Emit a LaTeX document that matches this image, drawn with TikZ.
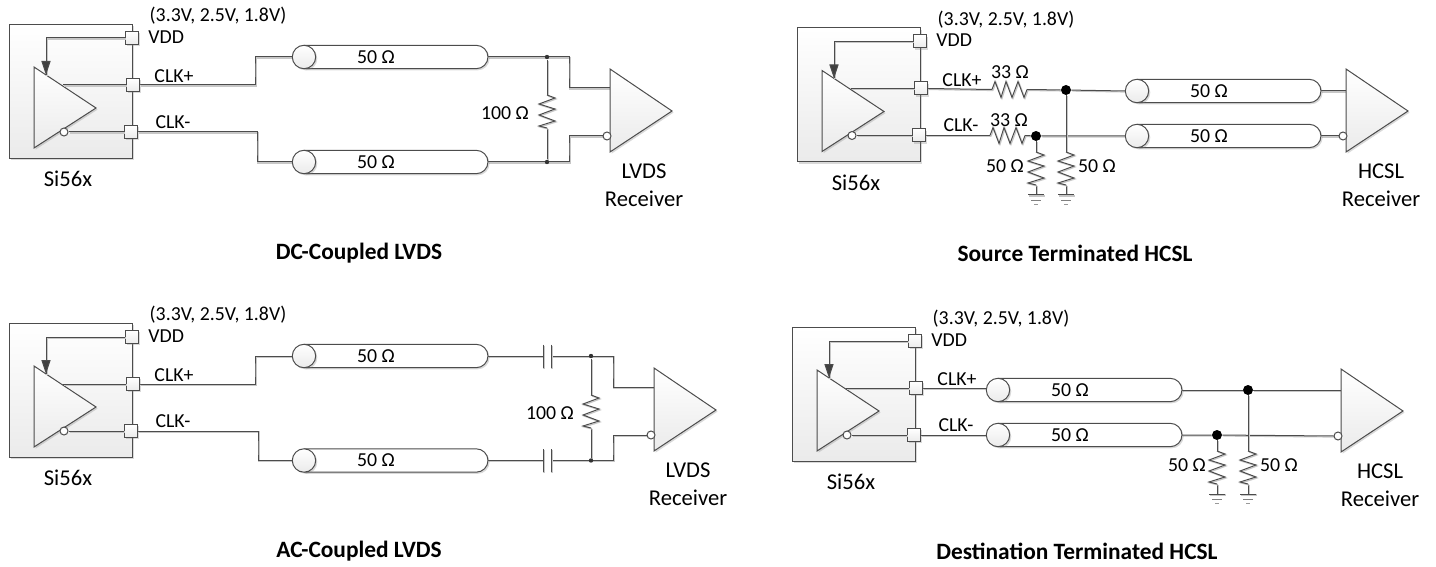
\documentclass[tikz,border=0pt]{standalone}
\usepackage{fontspec}
\setmainfont{Carlito}
\usepackage{tikz}
\usetikzlibrary{arrows.meta,shadows,backgrounds}

\definecolor{linecol}{gray}{0.3}
\tikzset{
    txt/.style={inner sep=0pt, font=\fontsize{9.9}{14}\selectfont},
    bigtxt/.style={inner sep=0pt, align=center, font=\fontsize{11.3}{14}\selectfont},
    title/.style={txt, font=\fontsize{11.7}{14}\selectfont\bfseries},
    wire/.style={draw=linecol, line width=.5pt,
        preaction={draw=black!22, line width=.6pt, transform canvas={shift={(.5pt,-.5pt)}}}},
    body/.style={draw=linecol, line width=.5pt, top color=white, bottom color=black!8,
        drop shadow={shadow xshift=.8pt, shadow yshift=-.8pt, opacity=.3}},
    pinbox/.style={body, rectangle, minimum size=6.5pt, inner sep=0pt},
    bubble/.style={circle, draw=linecol, fill=white, line width=.5pt, minimum size=4pt, inner sep=0pt},
    dotbig/.style={circle, fill=black, minimum size=5pt, inner sep=0pt},
    dotsmall/.style={circle, fill=black!80, minimum size=2.2pt, inner sep=0pt},
    % Si56x driver with its pins
    chip/.pic={
        \node[body, rectangle, anchor=north west, minimum width=61.5pt, minimum height=67pt, inner sep=0pt] (-box) at (0,0) {};
        \path[body] (25,43) -- (87,84) -- (25,124) -- cycle;
        \coordinate (-vin) at (37,51);
        \coordinate (-op) at (54,61);
        \node[bubble] (-bub) at (55,108) {};
        \node[pinbox] (-vdd) at (123,14) {};
        \node[pinbox] (-plus) at (124,61) {};
        \node[pinbox] (-minus) at (122,108) {};
        \draw[wire] (-op) -- (-plus.west);
        \draw[wire] (-bub.east) -- (-minus.west);
        \draw[wire] (-vdd.west) -| (-vin);
        \draw[draw=linecol, line width=.5pt, -{Triangle[length=7pt,width=4.6pt,fill=black!75]}] (-vdd.west) -| (-vin);
        \node[txt] (-sup) at (209,-8) {(3.3V, 2.5V, 1.8V)};
        \node[txt, anchor=west] (-vddl) at (139,13) {VDD};
        \node[txt] (-pl) at (165,52.5) {CLK+};
        \node[txt] (-ml) at (164,98) {CLK-};
        \node[bigtxt] (-name) at (59,155) {Si56x};
    },
    % transmission line, origin in the middle of the circle
    coax/.pic={
        \path[body, top color=white, bottom color=white, rounded corners=5.9pt] (0,-11.7) -- (184,-11.7) -- (184,11.7) -- (0,11.7);
        \node[body, circle, minimum size=11.7pt, inner sep=0pt] (-circ) at (0,0) {};
        \coordinate (-west) at (-11.7,0);
        \coordinate (-end) at (184,0);
        \node[txt] (-val) at (72,0) {50 Ω};
    },
    % receiver triangle, origin at its top corner
    receiver/.pic={
        \path[body] (0,0) -- (62,42) -- (0,83) -- cycle;
        \coordinate (-in) at (0,19);
        \node[bubble] (-bub) at (-3,67) {};
    },
    resv/.pic={
        \coordinate (-top) at (0,0);
        \coordinate (-bot) at (0,33);
        \draw[wire] (0,0) -- (8,3) -- (-8,9) -- (8,14) -- (-8,20) -- (8,26) -- (-8,31) -- (0,33);
    },
    resh/.pic={
        \coordinate (-w) at (0,0);
        \coordinate (-e) at (35,0);
        \draw[wire] (0,0) -- (3,-8) -- (9,8) -- (14,-8) -- (20,8) -- (26,-8) -- (32,8) -- (35,0);
    },
    gnd/.pic={
        \coordinate (-top) at (0,0);
        \draw[wire] (-8,0) -- (8,0);
        \draw[draw=black!50, line width=.4pt] (-5,5) -- (5,5);
        \draw[draw=black!40, line width=.4pt] (-2,9) -- (2,9);
    },
    capa/.pic={
        \coordinate (-w) at (-4,0);
        \coordinate (-e) at (4,0);
        \draw[wire] (-4,-11.5) -- (-4,11.5);
        \draw[wire] (4,-11.5) -- (4,11.5);
    },
}

\begin{document}
\begin{tikzpicture}[x=0.5pt,y=-0.5pt]
    \useasboundingbox (0,0) rectangle (1436,567);

    % DC-Coupled LVDS
    \pic (p1) at (9,24) {chip};
    \pic (p1c1) at (304,57) {coax};
    \pic (p1c2) at (304,162) {coax};
    \pic (p1rx) at (610,69) {receiver};
    \pic (p1r) at (547,95) {resv};
    \coordinate (p1a) at (255,70);
    \coordinate (p1b) at (257,150);
    \coordinate (p1e) at (569,70);
    \coordinate (p1f) at (569,150);
    \node[dotsmall] (p1d1) at (547,57) {};
    \node[dotsmall] (p1d2) at (547,162) {};
    \begin{scope}[on background layer]
        \draw[wire] (p1-plus.east) -| (p1a) |- (p1c1-west);
        \draw[wire] (p1-minus.east) -| (p1b) |- (p1c2-west);
        \draw[wire] (p1c1-end) -| (p1e) |- (p1rx-in);
        \draw[wire] (p1c2-end) -| (p1f) |- (p1rx-bub.west);
        \draw[wire] (p1d1) -- (p1r-top);
        \draw[wire] (p1r-bot) -- (p1d2);
    \end{scope}
    \node[txt] (p1rl) at (505,113) {100 Ω};
    \node[bigtxt] (p1rxl) at (644,185) {LVDS\\Receiver};
    \node[title] (p1t) at (359,253) {DC-Coupled LVDS};

    % Source Terminated HCSL
    \pic (p2) at (797,27.5) {chip};
    \pic (p2c1) at (1137,91) {coax};
    \pic (p2c2) at (1137,136) {coax};
    \pic (p2rx) at (1346,69) {receiver};
    \pic (p2s1) at (992,89.5) {resh};
    \pic (p2s2) at (990,135.5) {resh};
    \pic (p2r1) at (1036,152) {resv};
    \pic (p2r2) at (1066,152) {resv};
    \pic (p2g1) at (1036,195) {gnd};
    \pic (p2g2) at (1066,195) {gnd};
    \node[dotbig] (p2d1) at (1066,90) {};
    \node[dotbig] (p2d2) at (1036,136) {};
    \begin{scope}[on background layer]
        \draw[wire] (p2-plus.east) -- (p2s1-w);
        \draw[wire] (p2-minus.east) -- (p2s2-w);
        \draw[wire] (p2s1-e) -- (p2d1) -- (p2c1-west);
        \draw[wire] (p2s2-e) -- (p2d2) -- (p2c2-west);
        \draw[wire] (p2c1-end) -- (p2c1-end -| p2rx-in);
        \draw[wire] (p2c2-end) -- (p2rx-bub.west);
        \draw[wire] (p2d1) -- (p2r2-top);
        \draw[wire] (p2d2) -- (p2r1-top);
        \draw[wire] (p2r1-bot) -- (p2g1-top);
        \draw[wire] (p2r2-bot) -- (p2g2-top);
    \end{scope}
    \node[txt] (p2sl1) at (1010,72) {33 Ω};
    \node[txt] (p2sl2) at (1009,120) {33 Ω};
    \node[txt] (p2rl1) at (1005,166) {50 Ω};
    \node[txt] (p2rl2) at (1097,166) {50 Ω};
    \node[bigtxt] (p2rxl) at (1381,185) {HCSL\\Receiver};
    \node[title] (p2t) at (1075,253) {Source Terminated HCSL};

    % AC-Coupled LVDS
    \pic (p3) at (9,323) {chip};
    \pic (p3c1) at (304,356) {coax};
    \pic (p3c2) at (304,460.5) {coax};
    \pic (p3rx) at (654,368) {receiver};
    \pic (p3k1) at (547,356) {capa};
    \pic (p3k2) at (547,460.5) {capa};
    \pic (p3r) at (591,395) {resv};
    \coordinate (p3a) at (255,370);
    \coordinate (p3b) at (258,450);
    \coordinate (p3e) at (613,370);
    \coordinate (p3f) at (613,450);
    \node[dotsmall] (p3d1) at (591,356) {};
    \node[dotsmall] (p3d2) at (591,460.5) {};
    \begin{scope}[on background layer]
        \draw[wire] (p3-plus.east) -| (p3a) |- (p3c1-west);
        \draw[wire] (p3-minus.east) -| (p3b) |- (p3c2-west);
        \draw[wire] (p3c1-end) -- (p3k1-w);
        \draw[wire] (p3c2-end) -- (p3k2-w);
        \draw[wire] (p3k1-e) -| (p3e) |- (p3rx-in);
        \draw[wire] (p3k2-e) -| (p3f) |- (p3rx-bub.west);
        \draw[wire] (p3d1) -- (p3r-top);
        \draw[wire] (p3r-bot) -- (p3d2);
    \end{scope}
    \node[txt] (p3rl) at (550,413) {100 Ω};
    \node[bigtxt] (p3rxl) at (688,484) {LVDS\\Receiver};
    \node[title] (p3t) at (359,551) {AC-Coupled LVDS};

    % Destination Terminated HCSL
    \pic (p4) at (792,327) {chip};
    \pic (p4c1) at (998,390) {coax};
    \pic (p4c2) at (998,435) {coax};
    \pic (p4rx) at (1341,369) {receiver};
    \pic (p4r1) at (1217,451) {resv};
    \pic (p4r2) at (1248,451) {resv};
    \pic (p4g1) at (1217,494) {gnd};
    \pic (p4g2) at (1248,494) {gnd};
    \node[dotbig] (p4d1) at (1248,390) {};
    \node[dotbig] (p4d2) at (1217,435) {};
    \begin{scope}[on background layer]
        \draw[wire] (p4-plus.east) -- (p4-plus.east -| p4c1-west);
        \draw[wire] (p4-minus.east) -- (p4c2-west);
        \draw[wire] (p4c1-end) -- (p4d1) -- (p4c1-end -| p4rx-in);
        \draw[wire] (p4c2-end) -- (p4d2) -- (p4rx-bub.west);
        \draw[wire] (p4d1) -- (p4r2-top);
        \draw[wire] (p4d2) -- (p4r1-top);
        \draw[wire] (p4r1-bot) -- (p4g1-top);
        \draw[wire] (p4r2-bot) -- (p4g2-top);
    \end{scope}
    \node[txt] (p4rl1) at (1187,465) {50 Ω};
    \node[txt] (p4rl2) at (1279,465) {50 Ω};
    \node[bigtxt] (p4rxl) at (1380,485) {HCSL\\Receiver};
    \node[title] (p4t) at (1077,551) {Destination Terminated HCSL};
\end{tikzpicture}
\end{document}
